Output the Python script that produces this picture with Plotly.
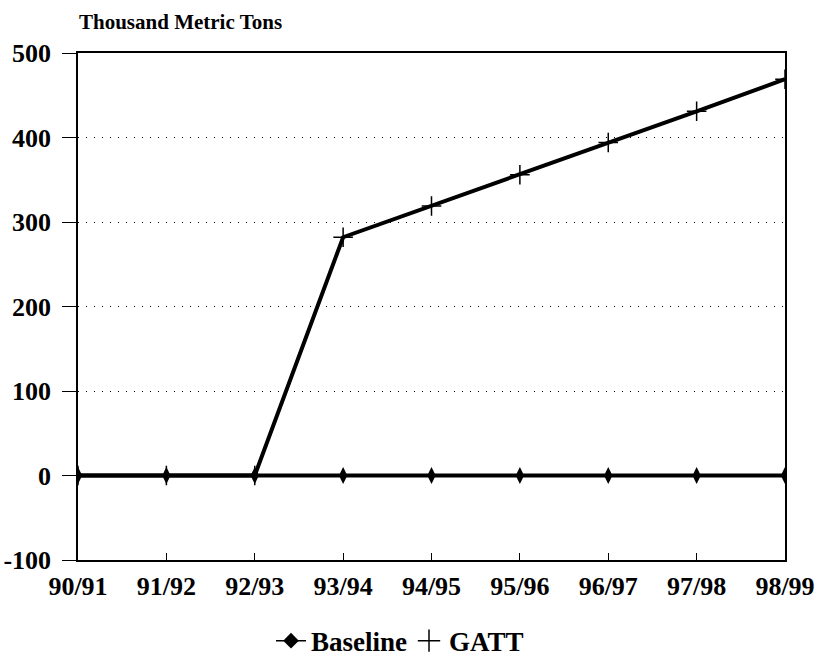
import plotly.graph_objects as go

years = ["90/91", "91/92", "92/93", "93/94", "94/95", "95/96", "96/97", "97/98", "98/99"]
baseline = [0, 0, 0, 0, 0, 0, 0, 0, 0]
gatt = [0, 0, 0, 282, 319, 356, 394, 431, 469]
y_ticks = [-100, 0, 100, 200, 300, 400, 500]
y_tick_text = ["-100", "0", "100", "200", "300", "400", "500"]

FONT = "Liberation Serif"
TICKFONT = dict(family=FONT, size=26, color="black", weight="bold")

fig = go.Figure()
fig.add_trace(go.Scatter(
    x=years, y=gatt, name="GATT", mode="lines+markers", showlegend=False,
    line=dict(color="black", width=4),
    marker=dict(symbol="cross-thin", size=14, line=dict(color="black", width=1.5)),
))
fig.add_trace(go.Scatter(
    x=years, y=baseline, name="Baseline", mode="lines+markers", showlegend=False,
    line=dict(color="black", width=4),
    marker=dict(symbol="diamond-tall", size=12, color="black"),
))
# legend-only entries (small symbols, like the original)
fig.add_trace(go.Scatter(
    x=[None], y=[None], name="Baseline", mode="lines+markers",
    line=dict(color="black", width=1.5),
    marker=dict(symbol="diamond", size=12, color="black"),
))
fig.add_trace(go.Scatter(
    x=[None], y=[None], name="GATT", mode="markers",
    marker=dict(symbol="cross-thin", size=20, line=dict(color="black", width=1.5)),
))

fig.update_layout(
    width=816, height=660,
    margin=dict(l=78, r=31, t=53, b=100, autoexpand=False),
    paper_bgcolor="white", plot_bgcolor="white",
    font=dict(family=FONT, size=20, color="black"),
    showlegend=True,
    legend=dict(orientation="h", x=0.273, xanchor="left", y=-0.16, yanchor="middle",
                font=dict(family=FONT, size=27, color="black", weight="bold"),
                itemwidth=30, entrywidth=93, entrywidthmode="pixels",
                bgcolor="rgba(0,0,0,0)"),
    annotations=[dict(text="Thousand Metric Tons", xref="paper", yref="paper",
                      x=-0.002, y=1.033, xanchor="left", yanchor="bottom",
                      showarrow=False,
                      font=dict(family=FONT, size=21, color="black", weight="bold"))],
)
fig.update_xaxes(
    type="category", range=[0, 8], showline=True, linecolor="black", linewidth=1.5,
    mirror=True, ticks="inside", ticklen=7, tickcolor="black", showgrid=False,
    tickfont=TICKFONT, ticklabelstandoff=2, automargin=False,
)
fig.update_yaxes(
    range=[-100, 500], tickvals=y_ticks, ticktext=y_tick_text,
    showline=True, linecolor="black", linewidth=1.5,
    mirror=True, ticks="outside", ticklen=14, tickcolor="black",
    showgrid=True, gridcolor="black", griddash="1px,7px", gridwidth=1.2, zeroline=False,
    tickfont=TICKFONT, ticklabelstandoff=6, automargin=False,
)

fig.write_html("out.html")
